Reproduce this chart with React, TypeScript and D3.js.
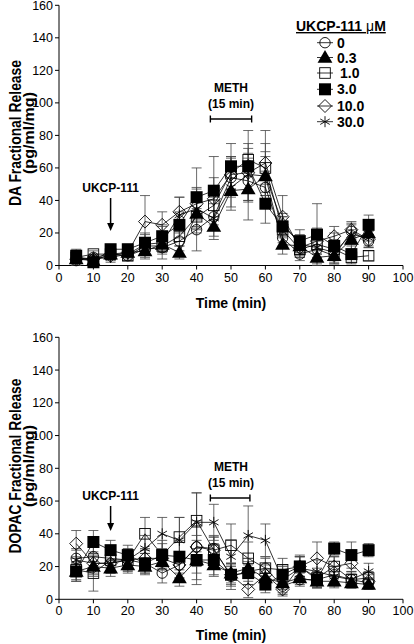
import React from "react";
import * as d3 from "d3";

const times = [5, 10, 15, 20, 25, 30, 35, 40, 45, 50, 55, 60, 65, 70, 75, 80, 85, 90];
const seriesNames = ["0", "0.3", "1.0", "3.0", "10.0", "30.0"];
const seriesSymbols = ["circle", "triangle", "openSquare", "square", "diamond", "star"];
const xTicks = [0, 10, 20, 30, 40, 50, 60, 70, 80, 90, 100];
const yTicks = [0, 20, 40, 60, 80, 100, 120, 140, 160];

// DA fractional release (top)
const daMean = [
  [3, 5, 7, 6, 10, 11, 15, 22, 30, 54, 52, 48, 17, 7, 10, 6, 21, 15],
  [4, 3, 7, 8, 9, 13, 8, 32, 24, 46, 47, 55, 13, 12, 5, 6, 16, 20],
  [5, 7, 7, 6, 12, 12, 18, 30, 37, 57, 65, 60, 22, 10, 13, 10, 5, 6],
  [6, 2, 10, 10, 14, 18, 25, 42, 46, 61, 61, 38, 24, 15, 19, 12, 7, 25],
  [4, 4, 6, 8, 27, 25, 33, 38, 41, 56, 57, 63, 30, 11, 15, 18, 22, 16],
  [5, 4, 5, 7, 13, 14, 31, 35, 29, 48, 56, 55, 26, 13, 11, 8, 19, 17],
];
const daErr = [
  [3, 2, 3, 3, 5, 3, 6, 13, 8, 12, 12, 10, 5, 4, 5, 4, 5, 4],
  [3, 2, 3, 3, 5, 4, 4, 10, 6, 12, 19, 12, 6, 6, 4, 5, 6, 5],
  [3, 2, 3, 3, 5, 5, 6, 10, 9, 10, 10, 15, 8, 5, 6, 6, 4, 3],
  [4, 2, 3, 3, 6, 7, 8, 18, 21, 14, 22, 12, 6, 7, 19, 8, 5, 6],
  [3, 2, 3, 3, 16, 8, 9, 10, 13, 11, 12, 20, 13, 6, 8, 6, 5, 5],
  [3, 2, 3, 3, 6, 10, 11, 12, 13, 12, 16, 15, 6, 6, 7, 7, 6, 5],
];

// DOPAC fractional release (bottom)
const dopacMean = [
  [25, 26, 25, 24, 22, 16, 21, 32, 31, 14, 17, 19, 8, 12, 12, 15, 12, 10],
  [17, 20, 19, 21, 20, 23, 13, 24, 21, 16, 19, 13, 10, 13, 11, 11, 10, 9],
  [18, 16, 24, 24, 40, 27, 38, 48, 30, 33, 25, 19, 18, 20, 13, 20, 12, 13],
  [17, 35, 30, 27, 22, 27, 26, 24, 24, 15, 16, 9, 15, 20, 12, 31, 27, 30],
  [34, 22, 22, 24, 25, 25, 21, 32, 30, 15, 6, 15, 6, 20, 25, 20, 22, 11],
  [24, 22, 22, 24, 31, 40, 36, 47, 47, 26, 39, 36, 12, 19, 17, 14, 12, 17],
];
const dopacErr = [
  [6, 8, 6, 6, 6, 6, 8, 16, 8, 8, 8, 6, 5, 4, 4, 5, 4, 3],
  [5, 6, 5, 5, 5, 5, 5, 12, 6, 6, 6, 5, 4, 4, 4, 4, 3, 3],
  [7, 11, 7, 7, 10, 9, 12, 17, 8, 13, 10, 7, 7, 6, 6, 6, 5, 4],
  [6, 7, 6, 6, 6, 7, 10, 15, 10, 6, 7, 5, 6, 6, 5, 4, 8, 4],
  [8, 7, 6, 6, 6, 6, 8, 12, 8, 7, 5, 6, 4, 6, 10, 6, 7, 4],
  [6, 6, 6, 6, 8, 10, 14, 18, 11, 10, 18, 10, 8, 8, 7, 6, 5, 5],
];

const FONT = "'Liberation Sans', Arial, Helvetica, sans-serif";
const drawOrder = [0, 1, 2, 4, 5, 3];

function Marker({ kind, x, y }: { kind: string; x: number; y: number }) {
  const sw = 0.9;
  if (kind === "circle") {
    return <circle cx={x} cy={y} r={5.2} fill="none" stroke="#000" strokeWidth={sw} />;
  }
  if (kind === "triangle") {
    const p = d3.symbol().type(d3.symbolTriangle).size(95)();
    return <path d={p || ""} transform={`translate(${x},${y + 1})`} fill="#000" />;
  }
  if (kind === "openSquare") {
    return <rect x={x - 5.3} y={y - 5.3} width={10.6} height={10.6} fill="none" stroke="#000" strokeWidth={sw} />;
  }
  if (kind === "square") {
    return <rect x={x - 6} y={y - 6} width={12} height={12} fill="#000" />;
  }
  if (kind === "diamond") {
    const r = 6.5;
    return (
      <path
        d={`M${x},${y - r}L${x + r},${y}L${x},${y + r}L${x - r},${y}Z`}
        fill="none"
        stroke="#000"
        strokeWidth={sw}
      />
    );
  }
  const r = 5.5;
  const arms = [0, 60, 120].map((a) => {
    const rad = ((a + 90) * Math.PI) / 180;
    const dx = Math.cos(rad) * r;
    const dy = Math.sin(rad) * r;
    return `M${x - dx},${y - dy}L${x + dx},${y + dy}`;
  });
  return <path d={arms.join("")} stroke="#000" strokeWidth={sw} fill="none" />;
}

type PanelProps = {
  yTop: number;
  yBottom: number;
  mean: number[][];
  err: number[][];
  label1: string;
  label1Len: number;
  label2: string;
  labelCenterY: number;
  xTitleY: number;
  methY: number;
  methEnd: number;
  ukcpY: number;
  arrowTop: number;
  arrowBottom: number;
};

function Panel(p: PanelProps) {
  const x = d3.scaleLinear().domain([0, 100]).range([59, 403]);
  const y = d3.scaleLinear().domain([0, 160]).range([p.yBottom, p.yTop]);
  const line = d3
    .line<number>()
    .x((_, i) => x(times[i]))
    .y((d) => y(d));
  const arrowX = x(15);
  return (
    <g fontFamily={FONT}>
      <line x1={x(0)} x2={x(0)} y1={y(0)} y2={y(160)} stroke="#000" strokeWidth={1} />
      <line x1={x(0)} x2={x(100)} y1={y(0)} y2={y(0)} stroke="#000" strokeWidth={1} />
      {yTicks.map((t) => (
        <g key={"y" + t}>
          <line x1={x(0) - 4} x2={x(0)} y1={y(t)} y2={y(t)} stroke="#000" />
          <text x={x(0) - 6} y={y(t) + 4.5} textAnchor="end" fontSize={12.5} fill="#000">
            {t}
          </text>
        </g>
      ))}
      {xTicks.map((t) => (
        <g key={"x" + t}>
          <line x1={x(t)} x2={x(t)} y1={y(0)} y2={y(0) + 4} stroke="#000" />
          <text x={x(t)} y={y(0) + 16} textAnchor="middle" fontSize={12.5} fill="#000">
            {t}
          </text>
        </g>
      ))}
      <text x={x(50)} y={p.xTitleY} textAnchor="middle" fontSize={14} fontWeight="bold">
        Time (min)
      </text>
      <text
        transform={`translate(21,${p.labelCenterY}) rotate(-90)`}
        textAnchor="middle"
        fontSize={16}
        fontWeight="bold"
        textLength={p.label1Len}
        lengthAdjust="spacingAndGlyphs"
      >
        {p.label1}
      </text>
      <text
        transform={`translate(34,${p.labelCenterY}) rotate(-90)`}
        textAnchor="middle"
        fontSize={15}
        fontWeight="bold"
        textLength={82}
        lengthAdjust="spacingAndGlyphs"
      >
        {p.label2}
      </text>

      <text x={x(15)} y={p.ukcpY} textAnchor="middle" fontSize={12} fontWeight="bold">
        UKCP-111
      </text>
      <line x1={arrowX} x2={arrowX} y1={p.arrowTop} y2={p.arrowBottom - 6} stroke="#000" strokeWidth={1.5} />
      <path
        d={`M${arrowX - 3.5},${p.arrowBottom - 8}L${arrowX + 3.5},${p.arrowBottom - 8}L${arrowX},${p.arrowBottom}Z`}
        fill="#000"
      />
      <text x={x(50)} y={p.methY} textAnchor="middle" fontSize={12} fontWeight="bold">
        METH
      </text>
      <text x={x(50)} y={p.methY + 16} textAnchor="middle" fontSize={12} fontWeight="bold">
        (15 min)
      </text>
      <g stroke="#000" strokeWidth={1.4}>
        <line x1={x(44)} x2={x(p.methEnd)} y1={p.methY + 27} y2={p.methY + 27} />
        <line x1={x(44)} x2={x(44)} y1={p.methY + 23.5} y2={p.methY + 30.5} />
        <line x1={x(p.methEnd)} x2={x(p.methEnd)} y1={p.methY + 23.5} y2={p.methY + 30.5} />
      </g>

      {drawOrder.map((s) => (
        <g key={"e" + s} stroke="#444" strokeWidth={0.8}>
          {p.mean[s].map((m, i) => {
            const cx = x(times[i]);
            const hi = y(m + p.err[s][i]);
            const lo = y(Math.max(0, m - p.err[s][i]));
            return (
              <g key={i}>
                <line x1={cx} x2={cx} y1={hi} y2={lo} />
                <line x1={cx - 5} x2={cx + 5} y1={hi} y2={hi} />
                <line x1={cx - 5} x2={cx + 5} y1={lo} y2={lo} />
              </g>
            );
          })}
        </g>
      ))}
      {drawOrder.map((s) => (
        <path key={"l" + s} d={line(p.mean[s]) || ""} fill="none" stroke="#000" strokeWidth={0.8} />
      ))}
      {drawOrder.map((s) => (
        <g key={"m" + s}>
          {p.mean[s].map((m, i) => (
            <Marker key={i} kind={seriesSymbols[s]} x={x(times[i])} y={y(m)} />
          ))}
        </g>
      ))}
    </g>
  );
}

function Legend() {
  const rows = [42.7, 57.5, 73, 89.3, 106, 121.7];
  return (
    <g fontFamily={FONT}>
      <text x={296} y={31} fontSize={14} fontWeight="bold" textDecoration="underline">
        UKCP-111 <tspan fontWeight="normal">μ</tspan>M
      </text>
      {seriesNames.map((n, i) => (
        <g key={n}>
          <line x1={317} x2={333} y1={rows[i]} y2={rows[i]} stroke="#000" strokeWidth={0.8} />
          <Marker kind={seriesSymbols[i]} x={325} y={rows[i]} />
          <text x={n === "1.0" ? 340 : 337} y={rows[i] + 5} fontSize={14} fontWeight="bold">
            {n}
          </text>
        </g>
      ))}
    </g>
  );
}

export default function App() {
  return (
    <svg
      width={414}
      height={644}
      viewBox="0 0 414 644"
      style={{ position: "absolute", left: 0, top: 0, background: "#fff" }}
    >
      <rect width={414} height={644} fill="#fff" />
      <Panel
        yTop={5.3}
        yBottom={265.5}
        mean={daMean}
        err={daErr}
        label1="DA Fractional Release"
        label1Len={146}
        label2="(pg/ml/mg)"
        labelCenterY={133}
        xTitleY={308}
        methY={92}
        methEnd={56}
        ukcpY={192}
        arrowTop={198}
        arrowBottom={231}
      />
      <Legend />
      <Panel
        yTop={337.3}
        yBottom={599.3}
        mean={dopacMean}
        err={dopacErr}
        label1="DOPAC Fractional Release"
        label1Len={175}
        label2="(pg/ml/mg)"
        labelCenterY={466}
        xTitleY={640}
        methY={471}
        methEnd={55.5}
        ukcpY={500}
        arrowTop={506}
        arrowBottom={531}
      />
    </svg>
  );
}
